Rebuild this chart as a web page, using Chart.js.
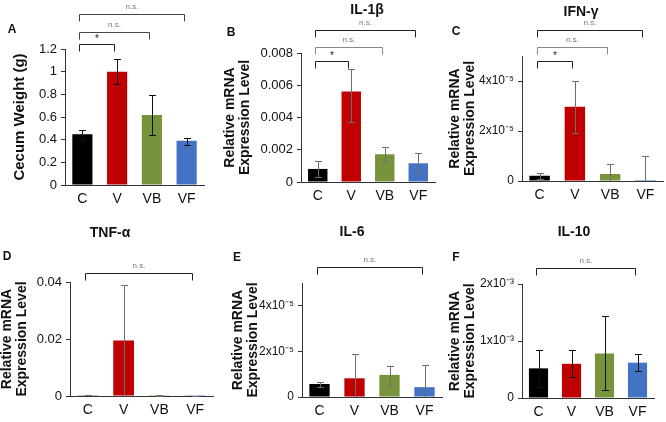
<!DOCTYPE html>
<html>
<head>
<meta charset="utf-8">
<script src="https://cdn.jsdelivr.net/npm/chart.js@4.4.1/dist/chart.umd.min.js"></script>
<style>
html, body { margin: 0; padding: 0; background: #fff; }
#fig { position: relative; width: 666px; height: 422px; overflow: hidden; }
#fig canvas { position: absolute; }
</style>
</head>
<body>
<div id="fig"></div>
<script>
'use strict';

var groups = ['C', 'V', 'VB', 'VF'],
	barColors = ['#000000', '#c00000', '#77933c', '#4472c4'];

// A - cecum weight (g)
var cecumMean = [0.447, 1.0, 0.618, 0.391],
	cecumLow = [0.40, 0.889, 0.438, 0.353],
	cecumHigh = [0.485, 1.112, 0.794, 0.417];

// B - IL-1β
var il1bMean = [0.00081, 0.00562, 0.00172, 0.00116],
	il1bLow = [0.00029, 0.0037, 0.0013, 0.00054],
	il1bHigh = [0.00132, 0.0070, 0.0022, 0.00182];

// C - IFN-γ
var ifngMean = [0.21e-5, 2.97e-5, 0.28e-5, 0.04e-5],
	ifngLow = [0.08e-5, 1.93e-5, 0, 0],
	ifngHigh = [0.33e-5, 4.01e-5, 0.67e-5, 1.01e-5];

// D - TNF-α
var tnfaMean = [0.0001, 0.0195, 0.0003, 0.00005],
	tnfaLow = [0, 0, 0.0001, 0],
	tnfaHigh = [0.0002, 0.039, 0.0005, 0.0001];

// E - IL-6
var il6Mean = [0.57e-5, 0.82e-5, 0.97e-5, 0.43e-5],
	il6Low = [0.45e-5, 0, 0.53e-5, 0],
	il6High = [0.67e-5, 1.89e-5, 1.36e-5, 1.40e-5];

// F - IL-10
var il10Mean = [0.52e-3, 0.60e-3, 0.78e-3, 0.62e-3],
	il10Low = [0.20e-3, 0.36e-3, 0.14e-3, 0.48e-3],
	il10High = [0.84e-3, 0.84e-3, 1.43e-3, 0.77e-3];

var mrnaTitle = ['Relative mRNA', 'Expression Level'];

function sci(exp) {
	var sup = exp === 5 ? '\u207B\u2075' : '\u207B\u00B3';
	return function (v) {
		return v === 0 ? '0' : Math.round(v / Math.pow(10, -exp)) + 'x10' + sup;
	};
}
function fixed(d) {
	return function (v) {
		return v === 0 ? '0' : String(+v.toFixed(d));
	};
}

Chart.defaults.font.family = '"Liberation Sans", Arial, sans-serif';
Chart.defaults.color = '#111';

// panel layout: canvas origin, plot box inside canvas, bracket rows
var panels = [
	{
		letter: 'A', title: '', yTitle: 'Cecum Weight (g)', yTitleOff: 12, yTitleSize: 15,
		mean: cecumMean, low: cecumLow, high: cecumHigh, errColor: '#111',
		max: 1.2, step: 0.2, fmt: fixed(1), tickSize: 13,
		x: 0, y: 0, left: 65, top: 49, rpad: 18, xh: 26,
		letterPos: [12, 30], titlePos: null,
		brackets: [
			{ from: 0, to: 3, y: 14, text: 'n.s.', color: '#444' },
			{ from: 0, to: 2, y: 32, text: 'n.s.', color: '#444' },
			{ from: 0, to: 1, y: 44, text: '*', color: '#222' }
		]
	},
	{
		letter: 'B', title: 'IL-1\u03B2', yTitle: mrnaTitle, yTitleOff: 1, yTitleSize: 14,
		mean: il1bMean, low: il1bLow, high: il1bHigh, errColor: '#6e6e6e',
		max: 0.008, step: 0.002, fmt: fixed(3), tickSize: 13,
		x: 222, y: 0, left: 79, top: 53, rpad: 9, xh: 29,
		letterPos: [9, 33], titlePos: [145, 10],
		brackets: [
			{ from: 0, to: 3, y: 30, text: 'n.s.', color: '#222' },
			{ from: 0, to: 2, y: 47, text: 'n.s.', color: '#888' },
			{ from: 0, to: 1, y: 61, text: '*', color: '#222' }
		]
	},
	{
		letter: 'C', title: 'IFN-\u03B3', yTitle: mrnaTitle, yTitleOff: 4, yTitleSize: 14,
		mean: ifngMean, low: ifngLow, high: ifngHigh, errColor: '#6e6e6e',
		max: 5e-5, step: 2e-5, fmt: sci(5), tickSize: 12,
		x: 444, y: 0, left: 78, top: 56, rpad: 3, xh: 30,
		letterPos: [12, 32], titlePos: [137, 12],
		brackets: [
			{ from: 0, to: 3, y: 30, text: 'n.s.', color: '#222' },
			{ from: 0, to: 2, y: 47, text: 'n.s.', color: '#888' },
			{ from: 0, to: 1, y: 61, text: '*', color: '#222' }
		]
	},
	{
		letter: 'D', title: 'TNF-\u03B1', yTitle: mrnaTitle, yTitleOff: 0, yTitleSize: 14,
		mean: tnfaMean, low: tnfaLow, high: tnfaHigh, errColor: '#6e6e6e',
		max: 0.04, step: 0.02, fmt: fixed(2), tickSize: 13,
		x: 0, y: 211, left: 70, top: 71, rpad: 9, xh: 26,
		letterPos: [7, 46], titlePos: [110, 22],
		brackets: [
			{ from: 0, to: 3, y: 62, text: 'n.s.', color: '#222' }
		]
	},
	{
		letter: 'E', title: 'IL-6', yTitle: mrnaTitle, yTitleOff: 9, yTitleSize: 14,
		mean: il6Mean, low: il6Low, high: il6High, errColor: '#6e6e6e',
		max: 5e-5, step: 2e-5, fmt: sci(5), tickSize: 12,
		x: 222, y: 211, left: 80, top: 72, rpad: 2, xh: 25,
		letterPos: [15, 47], titlePos: [130, 21],
		brackets: [
			{ from: 0, to: 3, y: 56, text: 'n.s.', color: '#222' }
		]
	},
	{
		letter: 'F', title: 'IL-10', yTitle: mrnaTitle, yTitleOff: 4, yTitleSize: 14,
		mean: il10Mean, low: il10Low, high: il10High, errColor: '#111',
		max: 2e-3, step: 1e-3, fmt: sci(3), tickSize: 12,
		x: 444, y: 211, left: 78, top: 73, rpad: 12, xh: 24,
		letterPos: [12, 47], titlePos: [130, 21],
		brackets: [
			{ from: 0, to: 3, y: 57, text: 'n.s.', color: '#222' }
		]
	}
];

// error bars, significance brackets, panel letter and title
var annotate = {
	id: 'annotate',
	afterDatasetsDraw: function (chart, args, o) {
		var ctx = chart.ctx,
			xs = chart.scales.x,
			ys = chart.scales.y;
		ctx.save();
		ctx.lineWidth = 1;
		ctx.strokeStyle = o.errColor;
		o.low.forEach(function (lo, i) {
			var px = Math.round(xs.getPixelForValue(i)) + 0.5,
				y1 = Math.round(ys.getPixelForValue(lo)) + 0.5,
				y2 = Math.round(ys.getPixelForValue(o.high[i])) + 0.5;
			ctx.beginPath();
			ctx.moveTo(px, y1);
			ctx.lineTo(px, y2);
			ctx.moveTo(px - 3.5, y2);
			ctx.lineTo(px + 3.5, y2);
			if (lo > 0) {
				ctx.moveTo(px - 3.5, y1);
				ctx.lineTo(px + 3.5, y1);
			}
			ctx.stroke();
		});
		ctx.restore();
	},
	afterDraw: function (chart, args, o) {
		var ctx = chart.ctx,
			xs = chart.scales.x;
		ctx.save();
		ctx.textAlign = 'center';
		ctx.textBaseline = 'middle';
		o.brackets.forEach(function (b) {
			var x1 = Math.round(xs.getPixelForValue(b.from)) - 2.5,
				x2 = Math.round(xs.getPixelForValue(b.to)) - 2.5,
				by = b.y + 0.5;
			ctx.strokeStyle = b.color;
			ctx.lineWidth = 1;
			ctx.beginPath();
			ctx.moveTo(x1, by + 7);
			ctx.lineTo(x1, by);
			ctx.lineTo(x2, by);
			ctx.lineTo(x2, by + 7);
			ctx.stroke();
			ctx.fillStyle = b.text === '*' ? '#222' : '#777';
			ctx.font = (b.text === '*' ? '10px' : '8px') + ' "Liberation Sans", Arial, sans-serif';
			ctx.fillText(b.text, (x1 + x2) / 2, b.y - (b.text === '*' ? 5 : 7));
		});
		ctx.fillStyle = '#111';
		ctx.font = 'bold 12px "Liberation Sans", Arial, sans-serif';
		ctx.fillText(o.letter, o.letterPos[0], o.letterPos[1]);
		if (o.titlePos) {
			ctx.font = 'bold 14px "Liberation Sans", Arial, sans-serif';
			ctx.fillText(o.title, o.titlePos[0], o.titlePos[1]);
		}
		ctx.restore();
	}
};

var fig = document.getElementById('fig');

panels.forEach(function (p) {
	var canvas = document.createElement('canvas');
	canvas.width = 222;
	canvas.height = 211;
	canvas.style.left = p.x + 'px';
	canvas.style.top = p.y + 'px';
	fig.appendChild(canvas);

	new Chart(canvas, {
		type: 'bar',
		data: {
			labels: groups,
			datasets: [{
				data: p.mean,
				backgroundColor: barColors,
				borderWidth: 0,
				barPercentage: 0.58,
				categoryPercentage: 1
			}]
		},
		options: {
			responsive: false,
			animation: false,
			events: [],
			devicePixelRatio: 1,
			layout: { padding: { top: p.top, right: p.rpad, left: 0, bottom: 0 } },
			plugins: {
				legend: { display: false },
				tooltip: { enabled: false },
				annotate: p
			},
			scales: {
				x: {
					grid: { display: false, drawTicks: false, tickLength: 0 },
					border: { display: true, color: '#333', width: 1 },
					ticks: { padding: 6, color: '#111', font: { size: 14 } },
					afterFit: function (s) { s.height = p.xh; }
				},
				y: {
					min: 0,
					max: p.max,
					grid: { drawOnChartArea: false, drawTicks: true, tickLength: 4, color: '#333' },
					border: { display: true, color: '#333', width: 1 },
					ticks: {
						stepSize: p.step,
						padding: 4,
						color: '#111',
						font: { size: p.tickSize },
						callback: p.fmt
					},
					afterBuildTicks: function (s) {
						s.ticks = s.ticks.filter(function (t) {
							var r = t.value / p.step;
							return Math.abs(r - Math.round(r)) < 1e-6;
						});
					},
					title: {
						display: true,
						text: p.yTitle,
						color: '#111',
						padding: { top: p.yTitleOff, bottom: 0 },
						font: { size: p.yTitleSize, weight: 'bold', lineHeight: 1.05 }
					},
					afterFit: function (s) { s.width = p.left; }
				}
			}
		},
		plugins: [annotate]
	});
});
</script>
</body>
</html>
